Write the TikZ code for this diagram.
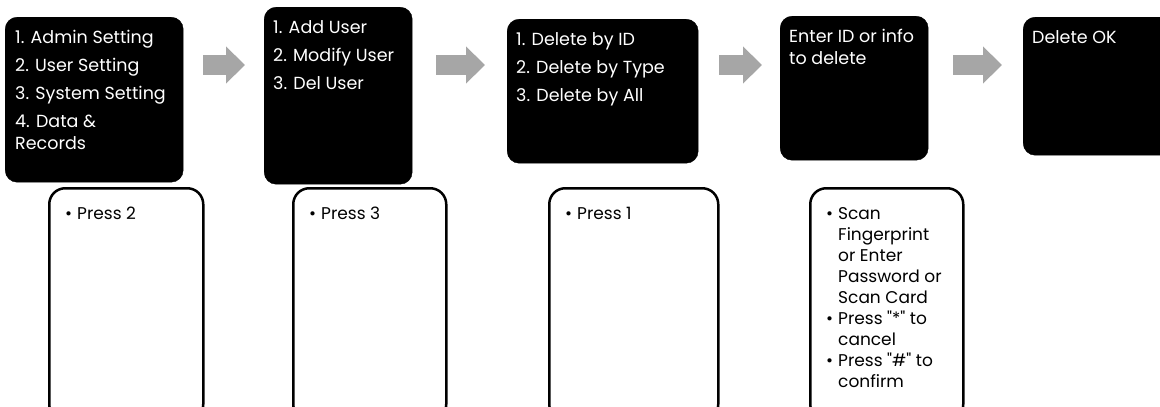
\documentclass[tikz,border=0pt]{standalone}
\usepackage{fontspec}
\setmainfont{Poppins}[Ligatures=TeXOff]
\usetikzlibrary{calc,arrows.meta}
\definecolor{arrgray}{RGB}{166,166,166}
\tikzset{
    SCR/.style ={rectangle, rounded corners=12pt, fill=black, draw=black, inner sep=0pt, anchor=north west},
    OPB/.style ={rectangle, rounded corners=16pt, draw=black, line width=2.5pt, inner sep=0pt, anchor=north west},
    STX/.style ={anchor=north west, inner sep=0pt, align=left, text=white, font=\fontsize{17.5}{22}\selectfont},
    OTX/.style ={anchor=north west, inner sep=0pt, align=left, font=\fontsize{17}{21}\selectfont},
    GAR/.style ={draw=arrgray, line width=20pt, -{Triangle[length=19pt,width=36pt,fill=arrgray]}}}
\newcommand{\blt}{\makebox[12pt][l]{\textbullet}}
\newcommand{\bsp}{\hspace*{12pt}}

\begin{document}
\begin{tikzpicture}[x=1pt,y=1pt]
        \useasboundingbox (0,0) rectangle (1160,-407);
        \coordinate (mid) at (0,-65);
        % screens
        \node[SCR, minimum width=178pt, minimum height=165pt] (scr1) at (5,-17) {};
        \node[SCR, minimum width=148pt, minimum height=177pt] (scr2) at (264,-7) {};
        \node[SCR, minimum width=191pt, minimum height=144pt] (scr3) at (507,-19) {};
        \node[SCR, minimum width=148pt, minimum height=144pt] (scr4) at (780,-16) {};
        \node[SCR, minimum width=160pt, minimum height=138pt] (scr5) at (1023,-17) {};
        \node[STX] (txt1) at ($(scr1.north west)+(10,-13)$) {1. Admin Setting\\[6pt]2. User Setting\\[6pt]3. System Setting\\[6pt]4. Data \&\\Records};
        \node[STX] (txt2) at ($(scr2.north west)+(9,-13)$) {1. Add User\\[6pt]2. Modify User\\[6pt]3. Del User};
        \node[STX] (txt3) at ($(scr3.north west)+(9,-13)$) {1. Delete by ID\\[6pt]2. Delete by Type\\[6pt]3. Delete by All};
        \node[STX] (txt4) at ($(scr4.north west)+(9,-13)$) {Enter ID or info\\to delete};
        \node[STX] (txt5) at ($(scr5.north west)+(9,-13)$) {Delete OK};
        % arrows
        \draw[GAR] ($(scr1.east|-mid)+(20,0)$) -- ($(scr2.west|-mid)+(-19,0)$);
        \draw[GAR] ($(scr2.east|-mid)+(24,0)$) -- ($(scr3.west|-mid)+(-22,0)$);
        \draw[GAR] ($(scr3.east|-mid)+(21,0)$) -- ($(scr4.west|-mid)+(-18,0)$);
        \draw[GAR] ($(scr4.east|-mid)+(25,0)$) -- ($(scr5.west|-mid)+(-21,0)$);
        % key presses
        \node[OPB, minimum width=154pt, minimum height=232pt] (op1) at (48,-187) {};
        \node[OPB, minimum width=153pt, minimum height=232pt] (op2) at (292,-187) {};
        \node[OPB, minimum width=169pt, minimum height=232pt] (op3) at (548,-187) {};
        \node[OPB, minimum width=153pt, minimum height=232pt] (op4) at (809,-187) {};
        \node[OTX] (ot1) at ($(op1.north west)+(17,-20)$) {\blt Press 2};
        \node[OTX] (ot2) at ($(op2.north west)+(17,-20)$) {\blt Press 3};
        \node[OTX] (ot3) at ($(op3.north west)+(17,-20)$) {\blt Press 1};
        \node[OTX] (ot4) at ($(op4.north west)+(17,-20)$) {\blt Scan\\\bsp Fingerprint\\\bsp or Enter\\\bsp Password or\\\bsp Scan Card\\\blt Press "*" to\\\bsp cancel\\\blt Press "\#" to\\\bsp confirm};
    \end{tikzpicture}
\end{document}
